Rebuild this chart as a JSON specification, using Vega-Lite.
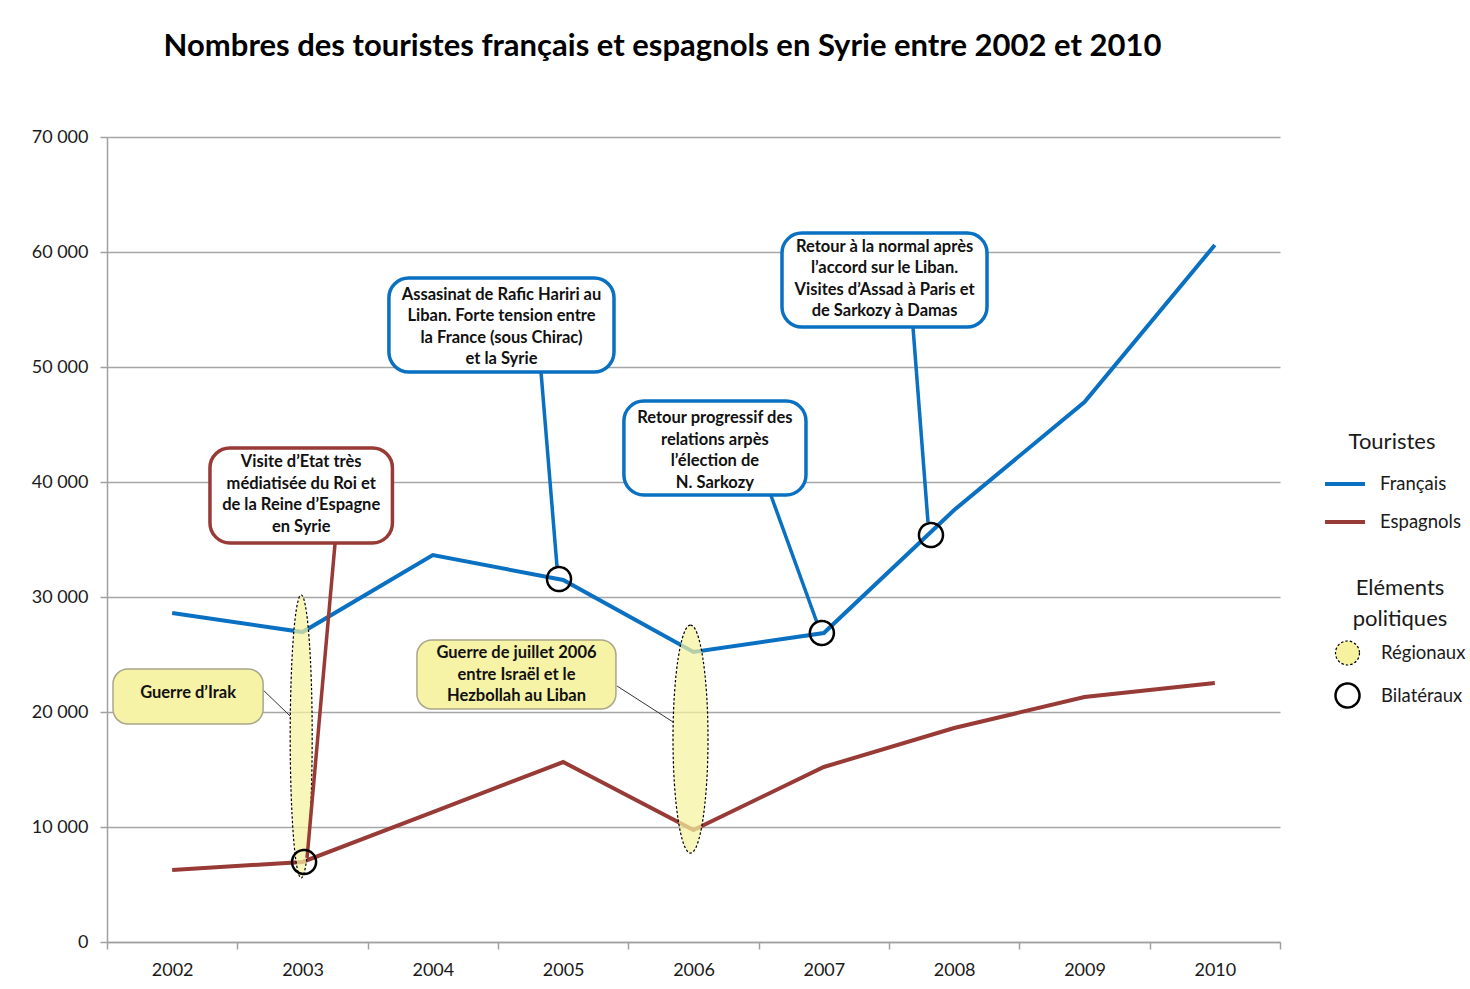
{
  "$schema": "https://vega.github.io/schema/vega-lite/v6.json",
  "width": 1173,
  "height": 805,
  "autosize": {"type": "none"},
  "padding": {"left": 107, "top": 137, "right": 190, "bottom": 47},
  "background": "white",
  "title": {
    "text": "Nombres des touristes français et espagnols en Syrie entre 2002 et 2010",
    "font": "Lato",
    "fontSize": 31,
    "fontWeight": "bold",
    "color": "#000000",
    "anchor": "middle",
    "dx": -31,
    "offset": 65
  },
  "datasets": {
    "touristes": [
      {"annee": 2002, "serie": "Français", "touristes": 28600},
      {"annee": 2003, "serie": "Français", "touristes": 26950},
      {"annee": 2004, "serie": "Français", "touristes": 33650},
      {"annee": 2005, "serie": "Français", "touristes": 31480},
      {"annee": 2006, "serie": "Français", "touristes": 25220},
      {"annee": 2007, "serie": "Français", "touristes": 26870},
      {"annee": 2008, "serie": "Français", "touristes": 37560},
      {"annee": 2009, "serie": "Français", "touristes": 46960},
      {"annee": 2010, "serie": "Français", "touristes": 60610},
      {"annee": 2002, "serie": "Espagnols", "touristes": 6260},
      {"annee": 2003, "serie": "Espagnols", "touristes": 6960},
      {"annee": 2004, "serie": "Espagnols", "touristes": 11300},
      {"annee": 2005, "serie": "Espagnols", "touristes": 15650},
      {"annee": 2006, "serie": "Espagnols", "touristes": 9740},
      {"annee": 2007, "serie": "Espagnols", "touristes": 15220},
      {"annee": 2008, "serie": "Espagnols", "touristes": 18610},
      {"annee": 2009, "serie": "Espagnols", "touristes": 21300},
      {"annee": 2010, "serie": "Espagnols", "touristes": 22520}
    ],
    "regionaux": [
      {"nom": "Irak", "type": "Régionaux", "annee": 2002.99, "valeur": 17870},
      {"nom": "Liban", "type": "Régionaux", "annee": 2005.977, "valeur": 17650}
    ],
    "bilateraux": [
      {"type": "Bilatéraux", "annee": 2003.012, "valeur": 6960},
      {"type": "Bilatéraux", "annee": 2004.968, "valeur": 31560},
      {"type": "Bilatéraux", "annee": 2006.985, "valeur": 26870},
      {"type": "Bilatéraux", "annee": 2007.822, "valeur": 35390}
    ],
    "bulles": [
      {"kind": "Espagnols", "texte": "Visite d’Etat très\nmédiatisée du Roi et\nde la Reine d’Espagne\nen Syrie", "x1": 2002.29, "x2": 2003.69, "y1": 42957, "y2": 34696, "xc": 2002.99, "yt": 41739, "px1": 2003.25, "py1": 34696, "px2": 2003.035, "py2": 7304},
      {"kind": "Français", "texte": "Assasinat de Rafic Hariri au\nLiban. Forte tension entre\nla France (sous Chirac)\net la Syrie", "x1": 2003.663, "x2": 2005.39, "y1": 57739, "y2": 49565, "xc": 2004.527, "yt": 56261, "px1": 2004.83, "py1": 49565, "px2": 2004.953, "py2": 32609},
      {"kind": "Français", "texte": "Retour progressif des\nrelations arpès\nl’élection de\nN. Sarkozy", "x1": 2005.466, "x2": 2006.863, "y1": 47043, "y2": 38870, "xc": 2006.164, "yt": 45565, "px1": 2006.593, "py1": 38870, "px2": 2006.946, "py2": 27826},
      {"kind": "Français", "texte": "Retour à la normal après\nl’accord sur le Liban.\nVisites d’Assad à Paris et\nde Sarkozy à Damas", "x1": 2006.679, "x2": 2008.252, "y1": 61652, "y2": 53478, "xc": 2007.466, "yt": 60435, "px1": 2007.684, "py1": 53478, "px2": 2007.799, "py2": 36522},
      {"kind": "Régionaux", "texte": "Guerre d’Irak", "x1": 2001.546, "x2": 2002.698, "y1": 23739, "y2": 18957, "xc": 2002.122, "yt": 21652, "px1": 2002.698, "py1": 21913, "px2": 2002.905, "py2": 19652},
      {"kind": "Régionaux", "texte": "Guerre de juillet 2006\nentre Israël et le\nHezbollah au Liban", "x1": 2003.878, "x2": 2005.405, "y1": 26261, "y2": 20261, "xc": 2004.642, "yt": 25130, "px1": 2005.413, "py1": 22261, "px2": 2005.843, "py2": 19130}
    ]
  },
  "layer": [
    {
      "data": {"name": "touristes"},
      "mark": {"type": "line", "strokeWidth": 4},
      "encoding": {
        "x": {
          "field": "annee",
          "type": "quantitative",
          "scale": {"domain": [2001.5, 2010.5], "nice": false, "zero": false},
          "axis": {
            "values": [2001.5, 2002.5, 2003.5, 2004.5, 2005.5, 2006.5, 2007.5, 2008.5, 2009.5, 2010.5],
            "labelExpr": "datum.value < 2010 ? format(datum.value + 0.5, 'd') : ''",
            "labelOffset": 65.17,
            "title": null,
            "grid": false,
            "tickSize": 7,
            "tickWidth": 1.5,
            "tickColor": "#a0a0a0",
            "domainColor": "#a0a0a0",
            "domainWidth": 1.5,
            "labelFontSize": 18,
            "labelPadding": 12,
            "labelOverlap": false,
            "labelBound": false,
            "labelFlush": false
          }
        },
        "y": {
          "field": "touristes",
          "type": "quantitative",
          "scale": {"domain": [0, 70000], "nice": false},
          "axis": {
            "values": [0, 10000, 20000, 30000, 40000, 50000, 60000, 70000],
            "labelExpr": "replace(format(datum.value, ','), ',', ' ')",
            "title": null,
            "grid": true,
            "gridColor": "#a6a6a6",
            "gridWidth": 1.5,
            "tickSize": 7,
            "tickWidth": 1.5,
            "tickColor": "#a0a0a0",
            "domainColor": "#a0a0a0",
            "domainWidth": 1.5,
            "labelFontSize": 18,
            "labelPadding": 12
          }
        },
        "stroke": {
          "field": "serie",
          "type": "nominal",
          "scale": {"domain": ["Français", "Espagnols"], "range": ["#0a70c2", "#983a36"]},
          "legend": {
            "title": "Touristes",
            "orient": "none",
            "legendX": 1216,
            "legendY": 295,
            "padding": 0,
            "symbolType": "stroke",
            "symbolStrokeWidth": 4,
            "symbolSize": 1600,
            "clipHeight": 30,
            "rowPadding": 8,
            "labelOffset": 13,
            "titleAnchor": "middle",
            "titleAlign": "center",
            "titleFontSize": 22,
            "titleFontWeight": "normal",
            "titlePadding": 15,
            "labelFontSize": 18.5
          }
        }
      }
    },
    {
      "data": {"name": "regionaux"},
      "transform": [{"filter": "datum.nom === 'Irak'"}],
      "mark": {
        "type": "point",
        "shape": "M0,-1C0.0429,-1 0.0777,-0.5523 0.0777,0C0.0777,0.5523 0.0429,1 0,1C-0.0429,1 -0.0777,0.5523 -0.0777,0C-0.0777,-0.5523 -0.0429,-1 0,-1Z",
        "size": 80089,
        "stroke": "#000000",
        "strokeWidth": 1.2,
        "strokeDash": [2.5, 2],
        "opacity": 1,
        "fillOpacity": 0.72
      },
      "encoding": {
        "x": {"field": "annee", "type": "quantitative"},
        "y": {"field": "valeur", "type": "quantitative"},
        "fill": {
          "field": "type",
          "type": "nominal",
          "title": ["Eléments", "politiques"],
          "scale": {"domain": ["Régionaux", "Bilatéraux"], "range": ["#f6f2a0", "transparent"]},
          "legend": {
            "orient": "none", "legendX": 1227, "legendY": 441, "padding": 0,
            "symbolType": "circle", "symbolSize": 576, "symbolStrokeColor": "#000000",
            "rowPadding": 10, "labelOffset": 20,
            "titleAnchor": "middle", "titleAlign": "center", "titleFontSize": 22, "titleFontWeight": "normal",
            "titleLineHeight": 31, "titlePadding": 9, "labelFontSize": 18.5
          }
        }
      }
    },
    {
      "data": {"name": "regionaux"},
      "transform": [{"filter": "datum.nom === 'Liban'"}],
      "mark": {
        "type": "point",
        "shape": "M0,-1C0.0848,-1 0.1535,-0.5523 0.1535,0C0.1535,0.5523 0.0848,1 0,1C-0.0848,1 -0.1535,0.5523 -0.1535,0C-0.1535,-0.5523 -0.0848,-1 0,-1Z",
        "size": 51984,
        "stroke": "#000000",
        "strokeWidth": 1.2,
        "strokeDash": [2.5, 2],
        "opacity": 1,
        "fillOpacity": 0.72
      },
      "encoding": {
        "x": {"field": "annee", "type": "quantitative"},
        "y": {"field": "valeur", "type": "quantitative"},
        "fill": {
          "field": "type",
          "type": "nominal",
          "title": ["Eléments", "politiques"],
          "scale": {"domain": ["Régionaux", "Bilatéraux"], "range": ["#f6f2a0", "transparent"]},
          "legend": {
            "orient": "none", "legendX": 1227, "legendY": 441, "padding": 0,
            "symbolType": "circle", "symbolSize": 576, "symbolStrokeColor": "#000000",
            "rowPadding": 10, "labelOffset": 20,
            "titleAnchor": "middle", "titleAlign": "center", "titleFontSize": 22, "titleFontWeight": "normal",
            "titleLineHeight": 31, "titlePadding": 9, "labelFontSize": 18.5
          }
        }
      }
    },
    {
      "data": {"name": "bulles"},
      "transform": [{"filter": "datum.kind === 'Régionaux'"}],
      "mark": {"type": "rule", "stroke": "#333333", "strokeWidth": 1},
      "encoding": {
        "x": {"field": "px1", "type": "quantitative"},
        "y": {"field": "py1", "type": "quantitative"},
        "x2": {"field": "px2"},
        "y2": {"field": "py2"}
      }
    },
    {
      "data": {"name": "bulles"},
      "transform": [{"filter": "datum.kind === 'Espagnols'"}],
      "mark": {"type": "rule", "stroke": "#983a36", "strokeWidth": 3.5},
      "encoding": {
        "x": {"field": "px1", "type": "quantitative"},
        "y": {"field": "py1", "type": "quantitative"},
        "x2": {"field": "px2"},
        "y2": {"field": "py2"}
      }
    },
    {
      "data": {"name": "bulles"},
      "transform": [{"filter": "datum.kind === 'Français'"}],
      "mark": {"type": "rule", "stroke": "#0a70c2", "strokeWidth": 3.5},
      "encoding": {
        "x": {"field": "px1", "type": "quantitative"},
        "y": {"field": "py1", "type": "quantitative"},
        "x2": {"field": "px2"},
        "y2": {"field": "py2"}
      }
    },
    {
      "data": {"name": "bilateraux"},
      "mark": {"type": "point", "shape": "circle", "size": 576, "stroke": "#000000", "opacity": 1},
      "encoding": {
        "x": {"field": "annee", "type": "quantitative"},
        "y": {"field": "valeur", "type": "quantitative"},
        "fill": {
          "field": "type",
          "type": "nominal",
          "title": ["Eléments", "politiques"],
          "scale": {"domain": ["Régionaux", "Bilatéraux"], "range": ["#f6f2a0", "transparent"]},
          "legend": {
            "orient": "none", "legendX": 1227, "legendY": 441, "padding": 0,
            "symbolType": "circle", "symbolSize": 576, "symbolStrokeColor": "#000000",
            "rowPadding": 10, "labelOffset": 20,
            "titleAnchor": "middle", "titleAlign": "center", "titleFontSize": 22, "titleFontWeight": "normal",
            "titleLineHeight": 31, "titlePadding": 9, "labelFontSize": 18.5
          }
        },
        "strokeDash": {
          "field": "type",
          "type": "nominal",
          "title": ["Eléments", "politiques"],
          "scale": {"domain": ["Régionaux", "Bilatéraux"], "range": [[2.5, 2], [1, 0]]},
          "legend": {
            "orient": "none", "legendX": 1227, "legendY": 441, "padding": 0,
            "symbolType": "circle", "symbolSize": 576, "symbolStrokeColor": "#000000",
            "rowPadding": 10, "labelOffset": 20,
            "titleAnchor": "middle", "titleAlign": "center", "titleFontSize": 22, "titleFontWeight": "normal",
            "titleLineHeight": 31, "titlePadding": 9, "labelFontSize": 18.5
          }
        },
        "strokeWidth": {
          "field": "type",
          "type": "nominal",
          "title": ["Eléments", "politiques"],
          "scale": {"type": "ordinal", "domain": ["Régionaux", "Bilatéraux"], "range": [1.2, 2.5]},
          "legend": {
            "orient": "none", "legendX": 1227, "legendY": 441, "padding": 0,
            "symbolType": "circle", "symbolSize": 576, "symbolStrokeColor": "#000000",
            "rowPadding": 10, "labelOffset": 20,
            "titleAnchor": "middle", "titleAlign": "center", "titleFontSize": 22, "titleFontWeight": "normal",
            "titleLineHeight": 31, "titlePadding": 9, "labelFontSize": 18.5
          }
        }
      }
    },
    {
      "data": {"name": "bulles"},
      "transform": [{"filter": "datum.kind === 'Espagnols'"}],
      "mark": {"type": "rect", "cornerRadius": 20, "fill": "#ffffff", "stroke": "#983a36", "strokeWidth": 3.5},
      "encoding": {
        "x": {"field": "x1", "type": "quantitative"},
        "x2": {"field": "x2"},
        "y": {"field": "y1", "type": "quantitative"},
        "y2": {"field": "y2"}
      }
    },
    {
      "data": {"name": "bulles"},
      "transform": [{"filter": "datum.kind === 'Français'"}],
      "mark": {"type": "rect", "cornerRadius": 20, "fill": "#ffffff", "stroke": "#0a70c2", "strokeWidth": 3.5},
      "encoding": {
        "x": {"field": "x1", "type": "quantitative"},
        "x2": {"field": "x2"},
        "y": {"field": "y1", "type": "quantitative"},
        "y2": {"field": "y2"}
      }
    },
    {
      "data": {"name": "bulles"},
      "transform": [{"filter": "datum.kind === 'Régionaux'"}],
      "mark": {"type": "rect", "cornerRadius": 15, "fill": "#f6f2a6", "stroke": "#a9a78a", "strokeWidth": 1.5},
      "encoding": {
        "x": {"field": "x1", "type": "quantitative"},
        "x2": {"field": "x2"},
        "y": {"field": "y1", "type": "quantitative"},
        "y2": {"field": "y2"}
      }
    },
    {
      "data": {"name": "bulles"},
      "mark": {"type": "text", "font": "Lato", "fontWeight": "bold", "fontSize": 16.5, "lineHeight": 21.5, "lineBreak": "\n", "align": "center", "baseline": "middle", "color": "#111111"},
      "encoding": {
        "x": {"field": "xc", "type": "quantitative"},
        "y": {"field": "yt", "type": "quantitative"},
        "text": {"field": "texte", "type": "nominal"}
      }
    }
  ],
  "config": {
    "font": "Lato",
    "view": {"stroke": null},
    "axis": {"labelColor": "#1a1a1a", "labelFont": "Lato"},
    "legend": {"labelFont": "Lato", "titleFont": "Lato", "labelColor": "#1a1a1a", "titleColor": "#1a1a1a"}
  }
}
